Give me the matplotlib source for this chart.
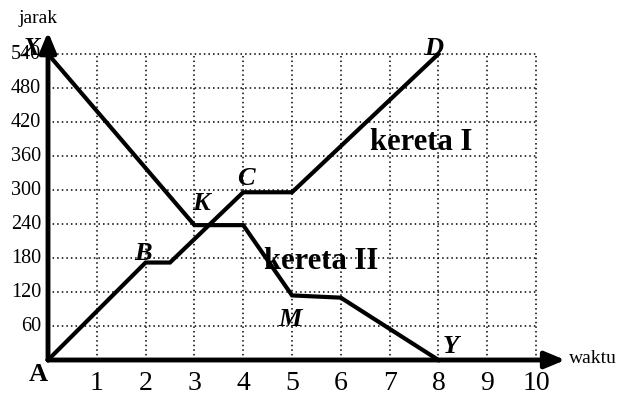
import matplotlib
matplotlib.use("Agg")
import matplotlib.pyplot as plt

# --- data ---
x_ticks = [1, 2, 3, 4, 5, 6, 7, 8, 9, 10]
y_ticks = [60, 120, 180, 240, 300, 360, 420, 480, 540]
kereta1_t = [0, 2, 2.5, 4, 5, 8]
kereta1_d = [0, 172, 172, 296, 296, 540]
kereta2_t = [0, 3, 4, 5, 6, 8]
kereta2_d = [540, 238, 238, 114, 110, 0]
point_labels = ["X", "D", "C", "K", "B", "M", "Y"]
point_pos = [(-0.33, 550), (7.9, 550), (4.06, 320), (3.14, 276), (1.95, 188), (4.96, 72), (8.25, 23)]

FONT = "Liberation Serif"

fig = plt.figure(figsize=(6.3, 3.98), dpi=100)
ax = fig.add_axes([0, 0, 1, 1])
ax.set_xlim(-0.9836, 11.926)
ax.set_ylim(-67.06, 635.3)
ax.axis("off")

# grid
grid_kw = dict(color="black", linewidth=1.1, linestyle=(0, (1, 2)))
ax.vlines(x_ticks, 0, max(y_ticks), **grid_kw)
ax.hlines(y_ticks, 0, max(x_ticks), **grid_kw)

# axes with arrows
ax.annotate("", xy=(0, 579), xytext=(0, 0),
            arrowprops=dict(arrowstyle="-|>,head_length=1.2,head_width=0.5",
                            color="black", lw=3.5, shrinkA=0, shrinkB=0))
ax.annotate("", xy=(10.6, 0), xytext=(0, 0),
            arrowprops=dict(arrowstyle="-|>,head_length=1.2,head_width=0.5",
                            color="black", lw=3.5, shrinkA=0, shrinkB=0))

# train lines
ax.plot(kereta1_t, kereta1_d, color="black", lw=3.0, solid_joinstyle="miter", zorder=3)
ax.plot(kereta2_t, kereta2_d, color="black", lw=3.0, solid_joinstyle="miter", zorder=3)

# tick labels
for t in x_ticks:
    ax.text(t, -42, str(t), ha="center", va="center", fontsize=20, family=FONT)
for v in y_ticks:
    ax.text(-0.14, v, str(v), ha="right", va="center", fontsize=14.5, family=FONT)

ax.text(-0.2, 603, "jarak", ha="center", va="center", fontsize=14, family=FONT)
ax.text(10.68, 3, "waktu", ha="left", va="center", fontsize=14, family=FONT)

# point letters
for lab, (px, py) in zip(point_labels, point_pos):
    ax.text(px, py, lab, ha="center", va="center", fontsize=19,
            family=FONT, fontweight="bold", fontstyle="italic", zorder=4)
ax.text(-0.2, -25, "A", ha="center", va="center", fontsize=19,
        family=FONT, fontweight="bold")

ax.text(7.65, 383, "kereta I", ha="center", va="center", fontsize=22,
        family=FONT, fontweight="bold", zorder=4)
ax.text(5.6, 173, "kereta II", ha="center", va="center", fontsize=22,
        family=FONT, fontweight="bold", zorder=4)

fig.savefig("out.png", dpi=100)
